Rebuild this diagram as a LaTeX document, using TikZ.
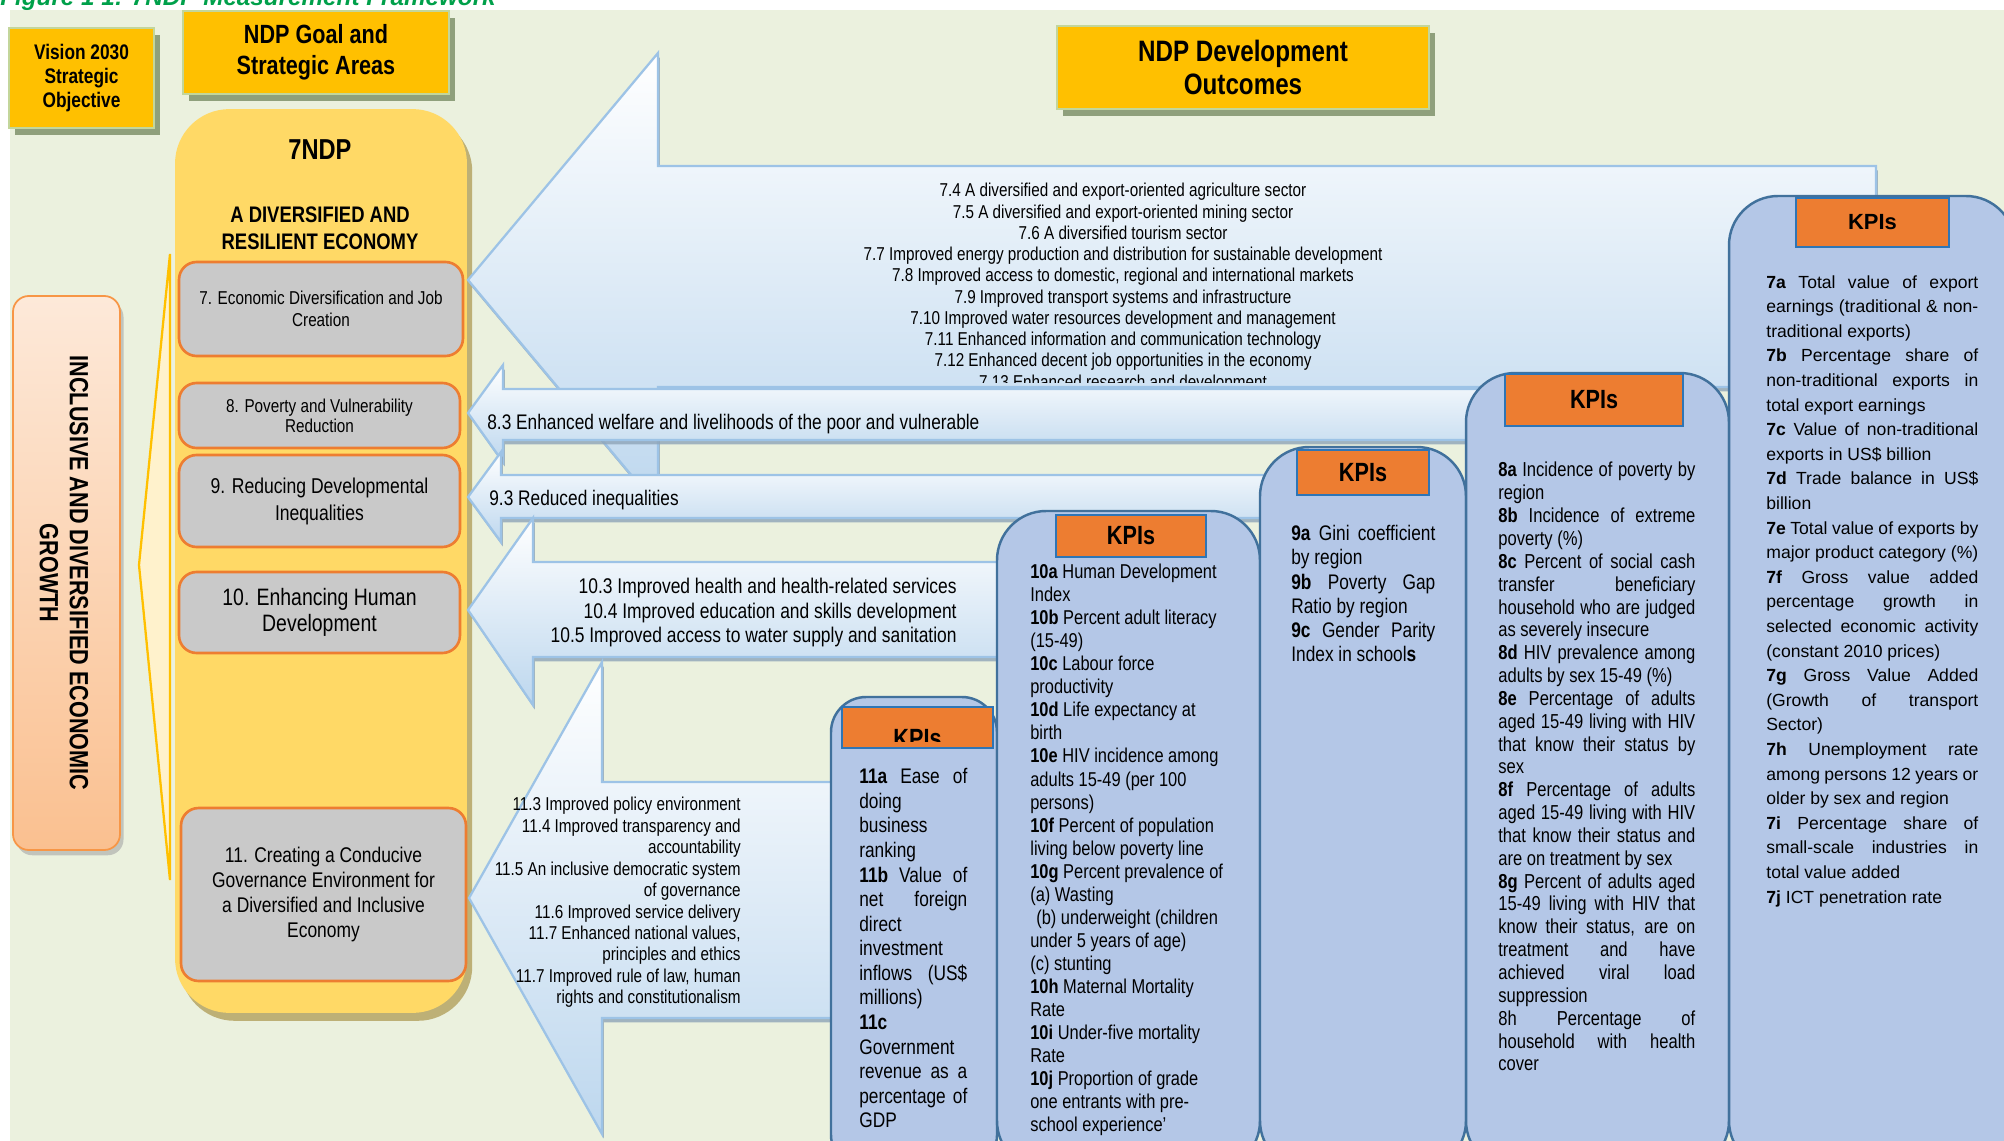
\documentclass[tikz,border=0pt]{standalone}
\usepackage{fontspec}
\setmainfont{Liberation Sans}
\newfontfamily\narrow[FakeStretch=0.82]{Liberation Sans}
\usetikzlibrary{shadows}
\definecolor{bggreen}{HTML}{EBF1DE}
\definecolor{gold}{HTML}{FFC000}
\definecolor{headline}{HTML}{C3D69B}
\definecolor{shadowgreen}{HTML}{8FA07C}
\definecolor{ndpyellow}{HTML}{FFD966}
\definecolor{ndpshadow}{HTML}{BDB076}
\definecolor{graybox}{HTML}{C9C9C9}
\definecolor{orangeline}{HTML}{ED7D31}
\definecolor{peachtop}{HTML}{FDE9D9}
\definecolor{peachbot}{HTML}{FAC090}
\definecolor{peachline}{HTML}{F79646}
\definecolor{chevfill}{HTML}{FFF2CC}
\definecolor{arrowblue}{HTML}{BDD7EE}
\definecolor{arrowline}{HTML}{9DC3E6}
\definecolor{arrowshadow}{HTML}{8EA4B8}
\definecolor{kpifill}{HTML}{B4C7E7}
\definecolor{kpiline}{HTML}{41719C}
\definecolor{kpiorange}{HTML}{ED7D31}
\definecolor{kpiheadline}{HTML}{2E75B6}
\definecolor{capgreen}{HTML}{00A04A}
\newlength\kpiw
\newcommand\jl[1]{\makebox[\kpiw][s]{#1}}
\newcommand\fsz[2]{\fontsize{#1}{#2}\selectfont}
\begin{document}
\begin{tikzpicture}[x=0.02cm, y=-0.02cm,
  every node/.style={inner sep=0pt},
  headbox/.style={fill=gold, draw=headline, line width=1.5pt, align=center,
    drop shadow={shadow xshift=3.2pt, shadow yshift=-4pt, fill=shadowgreen, opacity=1}},
  goalbox/.style={fill=graybox, draw=orangeline, line width=1.5pt, rounded corners=10pt, align=center},
  outarrow/.style={draw=arrowline, line width=1.3pt, top color=white, bottom color=arrowblue,
    drop shadow={shadow xshift=1pt, shadow yshift=-2.5pt, fill=arrowshadow, opacity=0.8}},
  kpibox/.style={fill=kpifill, draw=kpiline, line width=1.4pt, rounded corners=28pt},
  kpihead/.style={fill=kpiorange, draw=kpiheadline, line width=1pt},
  kpw/.code={\setlength\kpiw{#1}}]
\useasboundingbox (0,0) rectangle (2004,1141);
\fill[bggreen] (10,10) rectangle (2004,1141);
\node[anchor=base west, font=\bfseries\itshape\fsz{13.8}{16}, text=capgreen] (Cap) at (0,6) {Figure 1 1: 7NDP Measurement Framework};

\node[headbox, minimum width=2.9cm, minimum height=2cm, font=\narrow\bfseries\fsz{12}{13.7}] (Vision) at (81.5,78) {Vision 2030\\Strategic\\Objective};
\node[headbox, minimum width=5.32cm, minimum height=1.66cm, font=\narrow\bfseries\fsz{15}{17.7}] (Goal) at (316,52.5) {NDP Goal and\\Strategic Areas};
\node[headbox, minimum width=7.44cm, minimum height=1.66cm, font=\narrow\bfseries\fsz{16.8}{19.3}] (Outcomes) at (1243,67.5) {NDP Development\\Outcomes};

\path[draw=peachline, line width=1pt, top color=peachtop, bottom color=peachbot, rounded corners=9pt,
  drop shadow={shadow xshift=2pt, shadow yshift=-3pt, fill=black!35, opacity=0.6}] (13,296) rectangle (120,850);
\node[rotate=-90, align=center, font=\narrow\bfseries\fsz{15}{17}] (Growth) at (64,573) {INCLUSIVE AND DIVERSIFIED ECONOMIC\\GROWTH};
\path[fill=chevfill, draw=gold, line width=1.3pt] (170,254) -- (139,565) -- (170,880) -- cycle;

\node[fill=ndpyellow, rounded corners=31pt, minimum width=5.84cm, minimum height=18.08cm,
  drop shadow={shadow xshift=3pt, shadow yshift=-4.5pt, fill=ndpshadow, opacity=1}] (NDP) at (321,561) {};
\node[font=\narrow\bfseries\fsz{16.4}{19}] (NDP_t) at (320,150) {7NDP};
\node[align=center, font=\narrow\bfseries\fsz{12.8}{15.4}] (NDP_s) at (320,228) {A DIVERSIFIED AND\\RESILIENT ECONOMY};
\node[goalbox, minimum width=5.68cm, minimum height=1.88cm, font=\narrow\fsz{10.6}{12.5}] (B_7) at (321,309) {7. Economic Diversification and Job\\Creation};
\node[goalbox, minimum width=5.62cm, minimum height=1.3cm, font=\narrow\fsz{10.6}{11.4}] (B_8) at (319.5,415.5) {8. Poverty and Vulnerability\\Reduction};
\node[goalbox, minimum width=5.62cm, minimum height=1.84cm, font=\narrow\fsz{12.2}{15.4}] (B_9) at (319.5,501) {9. Reducing Developmental\\Inequalities};
\node[goalbox, minimum width=5.62cm, minimum height=1.62cm, font=\narrow\fsz{13.5}{14.8}] (B_10) at (319.5,612.5) {10. Enhancing Human\\Development};
\node[goalbox, minimum width=5.7cm, minimum height=3.46cm, font=\narrow\fsz{12.1}{14.2}] (B_11) at (323.5,894.5) {11. Creating a Conducive\\Governance Environment for\\a Diversified and Inclusive\\Economy};

\path[outarrow] (468,280) -- (658,53) -- (658,166) -- (1876,166) -- (1876,387) -- (658,387) -- (658,507) -- cycle;
\begin{scope}
\clip (660,168) rectangle (1874,383);
\node[anchor=north, align=center, font=\narrow\fsz{10.6}{12.1}] (T_7) at (1123,183) {7.4 A diversified and export-oriented agriculture sector\\7.5 A diversified and export-oriented mining sector\\7.6 A diversified tourism sector\\7.7 Improved energy production and distribution for sustainable development\\7.8 Improved access to domestic, regional and international markets\\7.9 Improved transport systems and infrastructure\\7.10 Improved water resources development and management\\7.11 Enhanced information and communication technology\\7.12 Enhanced decent job opportunities in the economy\\7.13 Enhanced research and development};
\end{scope}
\path[outarrow] (468,413) -- (503,365) -- (503,389) -- (1500,389) -- (1500,440) -- (503,440) -- (503,462) -- cycle;
\node[anchor=north west, font=\narrow\fsz{12}{14}] (T_8) at (487,414) {8.3 Enhanced welfare and livelihoods of the poor and vulnerable};
\path[outarrow] (468,497) -- (501,452) -- (501,475) -- (1300,475) -- (1300,518) -- (501,518) -- (501,542) -- cycle;
\node[anchor=north west, font=\narrow\fsz{12}{14}] (T_9) at (489,490) {9.3 Reduced inequalities};
\path[outarrow] (468,610) -- (533,518) -- (533,562) -- (1020,562) -- (1020,657) -- (533,657) -- (533,705) -- cycle;
\node[anchor=north east, align=right, font=\narrow\fsz{12.1}{14}] (T_10) at (957,578) {10.3 Improved health and health-related services\\10.4 Improved education and skills development\\10.5 Improved access to water supply and sanitation};
\path[outarrow] (469,898) -- (602,662) -- (602,782) -- (860,782) -- (860,1018) -- (602,1018) -- (602,1134) -- cycle;
\node[anchor=north east, align=right, font=\narrow\fsz{10.6}{12.2}] (T_11) at (741,797) {11.3 Improved policy environment\\11.4 Improved transparency and\\accountability\\11.5 An inclusive democratic system\\of governance\\11.6 Improved service delivery\\11.7 Enhanced national values,\\principles and ethics\\11.7 Improved rule of law, human\\rights and constitutionalism};

\draw[kpibox, rounded corners=20pt] (831,1170) rectangle (997,697);
\node[kpihead, minimum width=3.02cm, minimum height=0.82cm] (H_11) at (917.5,727.5) {};
\begin{scope}
\clip (842,707) rectangle (993,741);
\node[anchor=base, font=\narrow\bfseries\fsz{15}{18}] (H_11t) at (917.5,747) {KPIs};
\end{scope}
\node[anchor=north west, align=left, kpw=2.16cm, font=\narrow\fsz{12}{14}] (L_11) at (859,768) {\jl{\textbf{11a} Ease of}\\doing\\business\\ranking\\\jl{\textbf{11b} Value of}\\\jl{net foreign}\\direct\\investment\\\jl{inflows (US\$}\\millions)\\\textbf{11c}\\Government\\\jl{revenue as a}\\\jl{percentage of}\\GDP};

\draw[kpibox] (997,1170) rectangle (1260,511);
\node[kpihead, minimum width=3cm, minimum height=0.84cm, font=\narrow\bfseries\fsz{15}{18}] (H_10) at (1131,536) {KPIs};
\node[anchor=north west, align=left, font=\narrow\fsz{11.4}{13.1}] (L_10) at (1030,564) {\textbf{10a} Human Development\\Index\\\textbf{10b} Percent adult literacy\\(15-49)\\\textbf{10c} Labour force\\productivity\\\textbf{10d} Life expectancy at\\birth\\\textbf{10e} HIV incidence among\\adults 15-49 (per 100\\persons)\\\textbf{10f} Percent of population\\living below poverty line\\\textbf{10g} Percent prevalence of\\(a) Wasting\\\hspace{0.3em}(b) underweight (children\\under 5 years of age)\\(c) stunting\\\textbf{10h} Maternal Mortality\\Rate\\\textbf{10i} Under-five mortality\\Rate\\\textbf{10j} Proportion of grade\\one entrants with pre-\\school experience’};

\draw[kpibox] (1260,1170) rectangle (1466,447);
\node[kpihead, minimum width=2.64cm, minimum height=0.9cm, font=\narrow\bfseries\fsz{15}{18}] (H_9) at (1363,472.5) {KPIs};
\node[anchor=north west, align=left, kpw=2.88cm, font=\narrow\fsz{12}{13.8}] (L_9) at (1291,525) {\jl{\textbf{9a} Gini coefficient}\\by region\\\jl{\textbf{9b} Poverty Gap}\\Ratio by region\\\jl{\textbf{9c} Gender Parity}\\Index in school\textbf{s}};

\draw[kpibox] (1466,1170) rectangle (1729,373);
\node[kpihead, minimum width=3.56cm, minimum height=1.04cm, font=\narrow\bfseries\fsz{15}{18}] (H_8) at (1594,400) {KPIs};
\node[anchor=north west, align=left, kpw=3.94cm, font=\narrow\fsz{11.5}{13}] (L_8) at (1498,462) {\jl{\textbf{8a} Incidence of poverty by}\\region\\\jl{\textbf{8b} Incidence of extreme}\\poverty (\%)\\\jl{\textbf{8c} Percent of social cash}\\\jl{transfer beneficiary}\\\jl{household who are judged}\\as severely insecure\\\jl{\textbf{8d} HIV prevalence among}\\adults by sex 15-49 (\%)\\\jl{\textbf{8e} Percentage of adults}\\\jl{aged 15-49 living with HIV}\\\jl{that know their status by}\\sex\\\jl{\textbf{8f} Percentage of adults}\\\jl{aged 15-49 living with HIV}\\\jl{that know their status and}\\are on treatment by sex\\\jl{\textbf{8g} Percent of adults aged}\\\jl{15-49 living with HIV that}\\\jl{know their status, are on}\\\jl{treatment and have}\\\jl{achieved viral load}\\suppression\\\jl{8h Percentage of}\\\jl{household with health}\\cover};

\draw[kpibox] (1729,1170) rectangle (2015,196);
\node[kpihead, minimum width=3.06cm, minimum height=0.98cm, font=\bfseries\fsz{12.5}{15}] (H_7) at (1872.5,222.5) {KPIs};
\node[anchor=north west, align=left, kpw=4.24cm, font=\fsz{10}{14}] (L_7) at (1766,275) {\jl{\textbf{7a} Total value of export}\\\jl{earnings (traditional \& non-}\\traditional exports)\\\jl{\textbf{7b} Percentage share of}\\\jl{non-traditional exports in}\\total export earnings\\\jl{\textbf{7c} Value of non-traditional}\\exports in US\$ billion\\\jl{\textbf{7d} Trade balance in US\$}\\billion\\\jl{\textbf{7e} Total value of exports by}\\major product category (\%)\\\jl{\textbf{7f} Gross value added}\\\jl{percentage growth in}\\\jl{selected economic activity}\\(constant 2010 prices)\\\jl{\textbf{7g} Gross Value Added}\\\jl{(Growth of transport}\\Sector)\\\jl{\textbf{7h} Unemployment rate}\\\jl{among persons 12 years or}\\older by sex and region\\\jl{\textbf{7i} Percentage share of}\\\jl{small-scale industries in}\\total value added\\\textbf{7j} ICT penetration rate};
\end{tikzpicture}
\end{document}
